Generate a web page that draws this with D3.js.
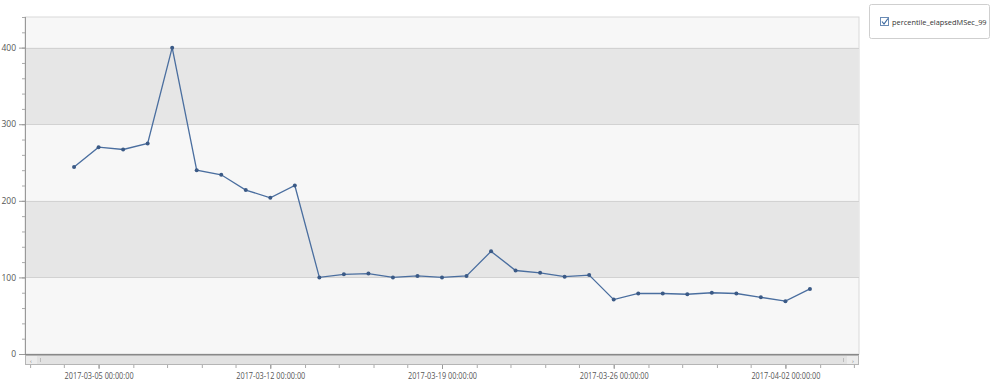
<!DOCTYPE html>
<html lang="en">
<head>
    <meta charset="UTF-8">
    <title>percentile_elapsedMSec_99</title>
    <script src="https://d3js.org/d3.v7.min.js"></script>
    <style>
        body { margin: 0; background: #fff; font-family: "Open Sans", "Noto Sans", sans-serif; }
    </style>
</head>
<body>
<svg id="chart" width="999" height="386"></svg>
<script>
    // daily values
    const dates = [
        "2017-03-04", "2017-03-05", "2017-03-06", "2017-03-07", "2017-03-08", "2017-03-09",
        "2017-03-10", "2017-03-11", "2017-03-12", "2017-03-13", "2017-03-14", "2017-03-15",
        "2017-03-16", "2017-03-17", "2017-03-18", "2017-03-19", "2017-03-20", "2017-03-21",
        "2017-03-22", "2017-03-23", "2017-03-24", "2017-03-25", "2017-03-26", "2017-03-27",
        "2017-03-28", "2017-03-29", "2017-03-30", "2017-03-31", "2017-04-01", "2017-04-02",
        "2017-04-03"
    ];
    const values = [
        244, 270, 267, 275, 400, 240,
        234, 214, 204, 220, 100, 104,
        105, 100, 102, 100, 102, 134,
        109, 106, 101, 103, 71, 79,
        79, 78, 80, 79, 74, 69,
        85
    ];
    const seriesName = "percentile_elapsedMSec_99";
    const yTicks = [0, 100, 200, 300, 400];
    const xTicks = ["2017-03-05", "2017-03-12", "2017-03-19", "2017-03-26", "2017-04-02"];
    const xDomain = ["2017-03-02", "2017-04-05"];

    const parse = d3.timeParse("%Y-%m-%d");
    const fmt = d3.timeFormat("%Y-%m-%d 00:00:00");
    const data = dates.map((d, i) => ({ date: parse(d), value: values[i] }));

    const plotL = 25, plotR = 859, plotT = 17, plotB = 354;
    const svg = d3.select("#chart");

    const x = d3.scaleTime().domain(xDomain.map(parse)).range([plotL, plotR]);
    const y = d3.scaleLinear().domain([0, 440]).range([plotB, plotT]);

    // plot background with alternating bands
    svg.append("rect")
        .attr("x", plotL).attr("y", plotT)
        .attr("width", plotR - plotL).attr("height", plotB - plotT)
        .attr("fill", "#f7f7f7").attr("stroke", "#d9d9d9");

    const bands = [[100, 200], [300, 400]];
    svg.selectAll(".band").data(bands).enter().append("rect")
        .attr("x", plotL + 0.5)
        .attr("y", d => y(d[1]))
        .attr("width", plotR - plotL - 1)
        .attr("height", d => y(d[0]) - y(d[1]))
        .attr("fill", "#e6e6e6");

    svg.selectAll(".grid").data(yTicks.slice(1)).enter().append("line")
        .attr("x1", plotL).attr("x2", plotR)
        .attr("y1", d => Math.round(y(d)) + 0.5).attr("y2", d => Math.round(y(d)) + 0.5)
        .attr("stroke", "#d2d2d2");

    // y axis
    const yMinor = d3.range(0, 441, 20);
    const yAxisMinor = d3.axisLeft(y).tickValues(yMinor).tickSize(3).tickFormat("");
    svg.append("g").attr("transform", `translate(${plotL},0)`).call(yAxisMinor)
        .call(g => g.select(".domain").remove())
        .selectAll("line").attr("stroke", "#aaa");
    const yAxis = d3.axisLeft(y).tickValues(yTicks).tickSize(6).tickPadding(3);
    svg.append("g").attr("transform", `translate(${plotL},0)`).call(yAxis)
        .call(g => g.select(".domain").attr("stroke", "#999").attr("d", `M0.5,${plotT}V${plotB}`))
        .call(g => g.selectAll("line").attr("stroke", "#999"))
        .call(g => g.selectAll("text").attr("fill", "#555").style("font-size", "8.5px")
            .style("font-family", "'Open Sans', sans-serif"));

    // bottom axis line
    svg.append("line")
        .attr("x1", plotL).attr("x2", plotR)
        .attr("y1", plotB + 0.5).attr("y2", plotB + 0.5)
        .attr("stroke", "#888");

    // scroll bar
    const sb = svg.append("g");
    sb.append("rect").attr("x", plotL + 0.5).attr("y", plotB + 1.5)
        .attr("width", plotR - plotL - 1).attr("height", 9)
        .attr("fill", "#ececec").attr("stroke", "#b5b5b5");
    sb.append("rect").attr("x", plotL + 12).attr("y", plotB + 2)
        .attr("width", plotR - plotL - 24).attr("height", 8)
        .attr("fill", "#e2e2e2");
    sb.append("text").attr("x", plotL + 6).attr("y", plotB + 9)
        .attr("text-anchor", "middle").style("font-size", "6px").attr("fill", "#777").text("‹");
    sb.append("text").attr("x", plotR - 6).attr("y", plotB + 9)
        .attr("text-anchor", "middle").style("font-size", "6px").attr("fill", "#777").text("›");
    sb.append("line").attr("x1", plotL + 15.5).attr("x2", plotL + 15.5)
        .attr("y1", plotB + 4).attr("y2", plotB + 8).attr("stroke", "#bbb");
    sb.append("line").attr("x1", plotR - 15.5).attr("x2", plotR - 15.5)
        .attr("y1", plotB + 4).attr("y2", plotB + 8).attr("stroke", "#bbb");

    // x axis below the scroll bar
    const xAxisY = plotB + 11;
    const start = parse("2017-02-26");
    const minor = d3.range(0, 50).map(i => d3.timeHour.offset(start, Math.round(i * 33.6)))
        .filter(d => d >= x.domain()[0] && d <= x.domain()[1]);
    svg.append("g").attr("transform", `translate(0,${xAxisY})`)
        .call(d3.axisBottom(x).tickValues(minor).tickSize(3).tickFormat(""))
        .call(g => g.select(".domain").remove())
        .selectAll("line").attr("stroke", "#aaa");
    svg.append("g").attr("transform", `translate(0,${xAxisY})`)
        .call(d3.axisBottom(x).tickValues(xTicks.map(parse)).tickSize(4).tickPadding(4).tickFormat(fmt))
        .call(g => g.select(".domain").remove())
        .call(g => g.selectAll("line").attr("stroke", "#999"))
        .call(g => g.selectAll("text").attr("fill", "#555").style("font-size", "8.5px")
            .style("font-family", "'Open Sans', sans-serif")
            .attr("textLength", 69).attr("lengthAdjust", "spacingAndGlyphs"));

    // series
    const line = d3.line().x(d => x(d.date)).y(d => y(d.value));
    svg.append("path").datum(data)
        .attr("d", line)
        .attr("fill", "none")
        .attr("stroke", "#4a6e9f")
        .attr("stroke-width", 1.3);
    svg.selectAll(".pt").data(data).enter().append("circle")
        .attr("cx", d => x(d.date)).attr("cy", d => y(d.value))
        .attr("r", 2).attr("fill", "#3b5a86");

    // legend
    const lg = svg.append("g");
    lg.append("rect").attr("x", 869.5).attr("y", 4.5).attr("width", 120).attr("height", 34)
        .attr("rx", 2).attr("fill", "#fff").attr("stroke", "#cfcfcf");
    lg.append("rect").attr("x", 880.5).attr("y", 17.5).attr("width", 8).attr("height", 8)
        .attr("fill", "#fff").attr("stroke", "#6a8bb5");
    lg.append("path").attr("d", "M882,21.5 L884,24 L888,18.5")
        .attr("fill", "none").attr("stroke", "#3d6aa0").attr("stroke-width", 1.2);
    lg.append("text").attr("x", 892).attr("y", 24.5)
        .style("font-size", "7.4px").attr("fill", "#333")
        .text(seriesName);
</script>
</body>
</html>
